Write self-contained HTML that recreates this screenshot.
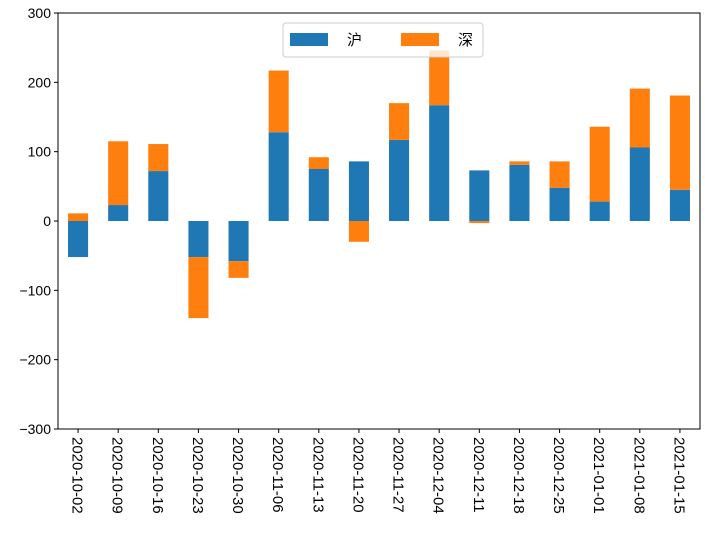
<!DOCTYPE html>
<html><head><meta charset="utf-8"><style>
body{margin:0;background:#fff}
svg{font-family:"Liberation Sans","Noto Sans CJK SC",sans-serif;font-size:14px}
</style></head><body>
<svg id="c" width="705" height="546"></svg>
<script>
const categories=["2020-10-02","2020-10-09","2020-10-16","2020-10-23","2020-10-30","2020-11-06","2020-11-13","2020-11-20","2020-11-27","2020-12-04","2020-12-11","2020-12-18","2020-12-25","2021-01-01","2021-01-08","2021-01-15"];
const hu=[-52,23,72,-52,-58,128,75,86,117,167,73,81,48,28,106,45];
const shen=[11,92,39,-88,-24,89,17,-30,53,79,-3,5,38,108,85,136];
const yTicks=[-300,-200,-100,0,100,200,300];
const NS="http://www.w3.org/2000/svg";
const svg=document.getElementById('c');
const L=58,R=700,T=13,B=429;
const y=v=>T+(300-v)/600*(B-T);
const step=(R-L)/categories.length;
const xc=i=>L+step*(i+0.5);
function mk(tag,attrs,parent){const e=document.createElementNS(NS,tag);for(const k in attrs)e.setAttribute(k,attrs[k]);(parent||svg).appendChild(e);return e;}
const bars=mk('g',{});


categories.forEach((c,i)=>{
  const w=step/2,x=xc(i)-w/2;
  let pos=0,neg=0;
  [[hu[i],'#1f77b4','hu'],[shen[i],'#ff7f0e','shen']].forEach(([v,col,nm])=>{
    let b0,b1;
    if(v>=0){b0=pos;b1=pos+v;pos=b1;}else{b0=neg;b1=neg+v;neg=b1;}
    const r=mk('rect',{x:x,y:Math.min(y(b0),y(b1)),width:w,height:Math.abs(y(b1)-y(b0)),fill:col},bars);
    
    
  });
  const tx=mk('line',{x1:xc(i),x2:xc(i),y1:B,y2:B+4,stroke:'#000'});
  
  
  const t=mk('text',{transform:`translate(${xc(i)-5.5},${B+8}) rotate(90)`,'font-size':'15'});
  t.textContent=c;
  
  
});
yTicks.forEach(v=>{
  const tk=mk('line',{x1:L-4,x2:L,y1:y(v),y2:y(v),stroke:'#000'});
  
  
  const t=mk('text',{x:L-7,y:y(v)+5,'text-anchor':'end'});
  t.textContent=v<0?'\u2212'+(-v):v;
  
  
});
const fr=mk('rect',{x:L,y:T,width:R-L,height:B-T,fill:'none',stroke:'#000','stroke-width':1});


const lg=mk('g',{});


mk('rect',{x:283,y:23,width:200,height:34,rx:3,fill:'#fff','fill-opacity':0.8,stroke:'#ccc'},lg);
const e1=mk('rect',{x:290,y:33,width:38,height:13,fill:'#1f77b4'},lg);


const l1=mk('text',{x:347,y:45,'font-size':'15'},lg);l1.textContent='沪';


const e2=mk('rect',{x:401,y:33,width:38,height:13,fill:'#ff7f0e'},lg);


const l2=mk('text',{x:458,y:45,'font-size':'15'},lg);l2.textContent='深';


</script>
</body></html>
